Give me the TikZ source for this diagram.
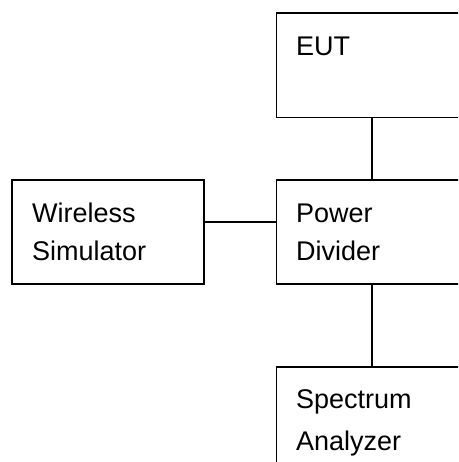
\documentclass[tikz,border=0pt]{standalone}
\usepackage{fontspec}
\setmainfont{Liberation Sans}
\usetikzlibrary{positioning}
\begin{document}
\begin{tikzpicture}[x=1pt, y=-1pt,
  box/.style={draw=black, line width=1.8pt, minimum width=191pt, minimum height=104.3pt, inner sep=0pt, anchor=north west},
  txt/.style={inner sep=0pt, anchor=base west, align=left, font=\fontsize{27}{38}\selectfont},
  wire/.style={draw=black, line width=1.8pt}]
\useasboundingbox (0,0) rectangle (458,462);
\clip (0,0) rectangle (458,462);
\node[box] (eut) at (275.5,12.4) {};
\node[box] (pd) at (275.5,179) {};
\node[box, minimum width=192.3pt] (ws) at (11,179) {};
\node[box] (sa) at (275.5,366) {};
\node[txt] (eutT) at (296,55.7) {EUT};
\node[txt] (pdT1) at (296,222.5) {Power};
\node[txt] (pdT2) at (296,260.5) {Divider};
\node[txt] (wsT1) at (32,222.5) {Wireless};
\node[txt] (wsT2) at (32,260.5) {Simulator};
\node[txt] (saT1) at (296,408) {Spectrum};
\node[txt] (saT2) at (296,450) {Analyzer};
\draw[wire] (eut.south) -- (pd.north);
\draw[wire] (pd.south) -- (sa.north);
\draw[wire] ([yshift=10.3pt]ws.east) -- ([yshift=10.3pt]pd.west);
\end{tikzpicture}
\end{document}
